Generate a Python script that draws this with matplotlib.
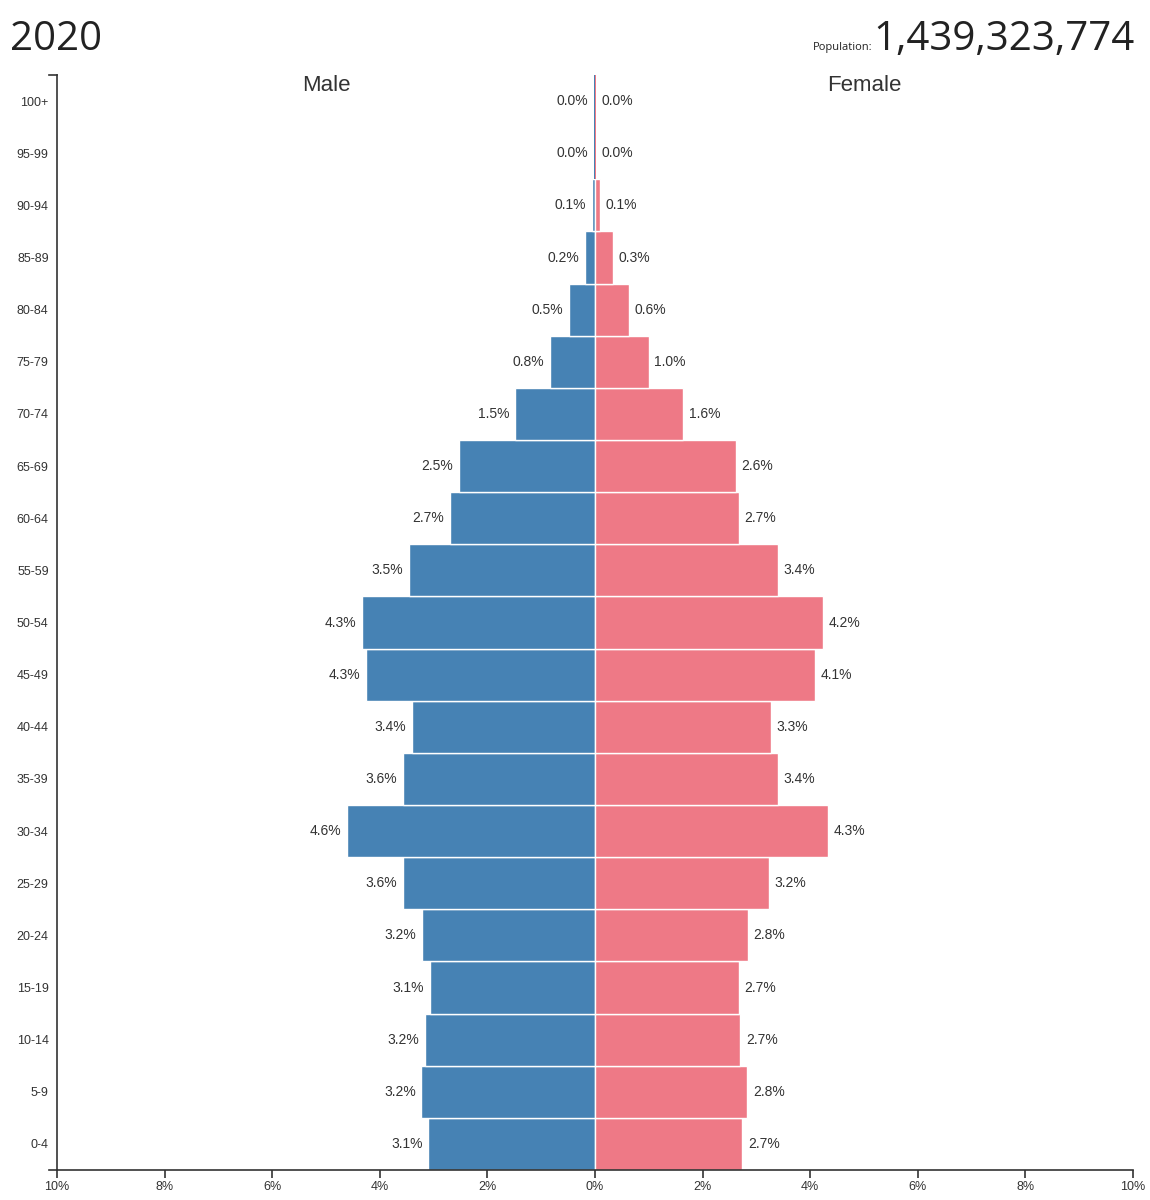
import matplotlib
matplotlib.use('Agg')
from matplotlib import pyplot as plt

# age groups, bottom to top
ages = ['0-4', '5-9', '10-14', '15-19', '20-24', '25-29', '30-34', '35-39',
        '40-44', '45-49', '50-54', '55-59', '60-64', '65-69', '70-74',
        '75-79', '80-84', '85-89', '90-94', '95-99', '100+']

# share of total population, %
male = [3.10, 3.23, 3.16, 3.07, 3.22, 3.57, 4.61, 3.57, 3.40, 4.26, 4.33,
        3.46, 2.70, 2.53, 1.49, 0.84, 0.48, 0.19, 0.06, 0.02, 0.02]
female = [2.74, 2.83, 2.70, 2.68, 2.84, 3.23, 4.33, 3.40, 3.27, 4.09, 4.24,
          3.40, 2.68, 2.62, 1.64, 1.00, 0.64, 0.33, 0.10, 0.02, 0.02]

xticks = [-10, -8, -6, -4, -2, 0, 2, 4, 6, 8, 10]
xticklabels = ['10%', '8%', '6%', '4%', '2%', '0%', '2%', '4%', '6%', '8%', '10%']

year = '2020'
population = '1,439,323,774'

male_color = '#4682b4'
female_color = '#ee7986'
text_color = '#333333'

plt.rcParams['font.family'] = ['Liberation Sans', 'DejaVu Sans']

fig = plt.figure(figsize=(11.5, 12), dpi=100)
ax = fig.add_axes([57 / 1150, 30 / 1200, 1076 / 1150, 1095 / 1200])

y = list(range(len(ages)))
lw_m = [0 if v < 0.05 else 1 for v in male]
lw_f = [0 if v < 0.05 else 1 for v in female]
ax.barh(y, [-v for v in male], height=1.0, color=male_color,
        edgecolor='white', linewidth=lw_m)
ax.barh(y, female, height=1.0, color=female_color,
        edgecolor='white', linewidth=lw_f)

for i in y:
    ax.annotate(f'{male[i]:.1f}%', (-male[i], i), xytext=(-4, 0),
                textcoords='offset points', ha='right', va='center',
                fontsize=10, color=text_color)
    ax.annotate(f'{female[i]:.1f}%', (female[i], i), xytext=(4, 0),
                textcoords='offset points', ha='left', va='center',
                fontsize=10, color=text_color)

ax.set_xlim(-10, 10)
ax.set_ylim(-0.5, len(ages) - 0.5)
ax.set_xticks(xticks)
ax.set_xticklabels(xticklabels)
ax.set_yticks(y)
ax.set_yticklabels(ages)
ax.tick_params(axis='x', length=6, width=1.2, color=text_color,
               labelsize=9, labelcolor=text_color, pad=2)
ax.tick_params(axis='y', length=0, labelsize=9, labelcolor=text_color, pad=6)

for side in ['top', 'right']:
    ax.spines[side].set_visible(False)
for side in ['left', 'bottom']:
    ax.spines[side].set_color(text_color)
    ax.spines[side].set_linewidth(1.2)

# outer ticks on the left axis, d3 style
ax.plot([-0.007, 0], [1, 1], transform=ax.transAxes, color=text_color,
        lw=1.2, clip_on=False)
ax.plot([-0.007, 0], [0, 0], transform=ax.transAxes, color=text_color,
        lw=1.2, clip_on=False)

xt = ax.get_xaxis_transform()
ax.text(-5, 0.99, 'Male', transform=xt, ha='center', va='center',
        fontsize=16, color=text_color)
ax.text(5, 0.99, 'Female', transform=xt, ha='center', va='center',
        fontsize=16, color=text_color)

fig.text(10 / 1150, 1 - 50 / 1200, year, ha='left', va='baseline',
         fontsize=29, color='#222222', family=['Open Sans', 'DejaVu Sans'])
fig.text(1135 / 1150, 1 - 50 / 1200, population, ha='right', va='baseline',
         fontsize=29, color='#222222', family=['Open Sans', 'DejaVu Sans'])
fig.text(872 / 1150, 1 - 50 / 1200, 'Population:', ha='right', va='baseline',
         fontsize=8, color='#222222', family=['Open Sans', 'DejaVu Sans'])

fig.savefig('out.png', dpi=100)
